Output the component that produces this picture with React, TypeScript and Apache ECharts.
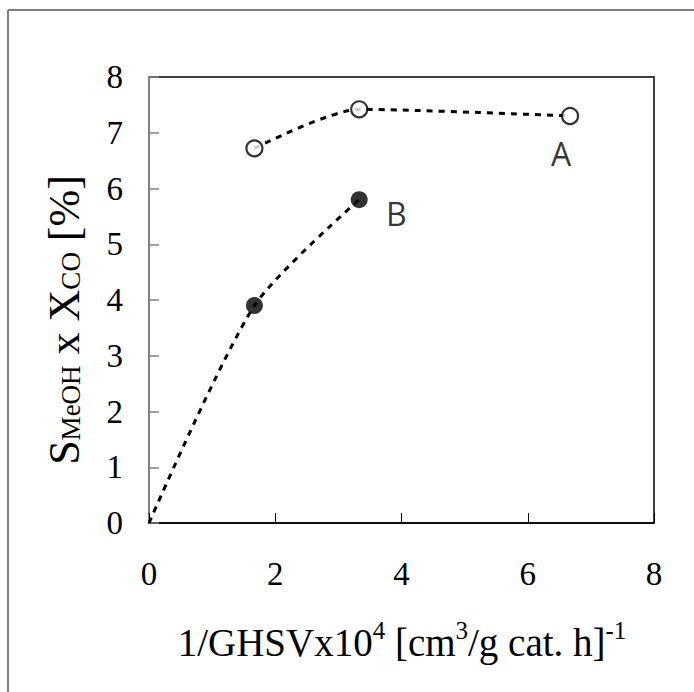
import React, { useEffect, useRef } from "react";
import * as echarts from "echarts";

// Data
const xA = [1.67, 3.33, 6.67];
const yA = [6.72, 7.42, 7.3];
const xB = [1.67, 3.33];
const yB = [3.9, 5.8];
// Trend curve for B starts at the origin
const xBTrend = [0, 1.67, 3.33];
const yBTrend = [0, 3.9, 5.8];
const xTicks = [0, 2, 4, 6, 8];
const yTicks = [0, 1, 2, 3, 4, 5, 6, 7, 8];

const SERIF = "'Liberation Serif', 'Times New Roman', serif";
const SANS = "'Open Sans', 'DejaVu Sans', sans-serif";

export default function App() {
  const ref = useRef<HTMLDivElement>(null);
  useEffect(() => {
    if (!ref.current) return;
    const chart = echarts.init(ref.current, null, { renderer: "svg" });
    const dash = { color: "#000", width: 3, type: [6, 6] as any };
    chart.setOption({
      animation: false,
      backgroundColor: "#fff",
      grid: {
        left: 149,
        top: 77,
        right: 40,
        bottom: 169,
        show: true,
        borderColor: "#000",
        borderWidth: 1.5,
        backgroundColor: "transparent",
      },
      xAxis: {
        type: "value",
        min: xTicks[0],
        max: xTicks[xTicks.length - 1],
        interval: 2,
        axisLine: { show: true, lineStyle: { color: "#000", width: 1.5 } },
        axisTick: { show: true, inside: true, length: 10, lineStyle: { color: "#000", width: 1 } },
        axisLabel: { fontSize: 33, fontFamily: SERIF, color: "#000", margin: 34 },
        splitLine: { show: false },
      },
      yAxis: {
        type: "value",
        min: yTicks[0],
        max: yTicks[yTicks.length - 1],
        interval: 1,
        axisLine: { show: true, lineStyle: { color: "#808080", width: 2 } },
        axisTick: { show: true, inside: true, length: 10, lineStyle: { color: "#808080", width: 1.5 } },
        axisLabel: { fontSize: 33, fontFamily: SERIF, color: "#000", margin: 26 },
        splitLine: { show: false },
      },
      series: [
        {
          type: "line",
          smooth: 0.25,
          symbol: "none",
          lineStyle: dash,
          data: xA.map((x, i) => [x, yA[i]]),
          z: 2,
        },
        {
          type: "line",
          smooth: 0.25,
          symbol: "none",
          lineStyle: dash,
          data: xBTrend.map((x, i) => [x, yBTrend[i]]),
          z: 2,
        },
        {
          type: "scatter",
          symbol: "circle",
          symbolSize: 16,
          itemStyle: { color: "#fff", borderColor: "#000", borderWidth: 2.2 },
          data: xA.map((x, i) => ({
            value: [x, yA[i]],
            label:
              i === xA.length - 1
                ? {
                    show: true,
                    formatter: "A",
                    position: "inside",
                    offset: [-9, 37],
                    fontFamily: SANS,
                    fontSize: 32,
                    color: "#000",
                  }
                : { show: false },
          })),
          z: 5,
        },
        {
          type: "scatter",
          symbol: "circle",
          symbolSize: 17,
          itemStyle: { color: "#000" },
          data: xB.map((x, i) => ({
            value: [x, yB[i]],
            label:
              i === xB.length - 1
                ? {
                    show: true,
                    formatter: "B",
                    position: "inside",
                    offset: [37, 14],
                    fontFamily: SANS,
                    fontSize: 32,
                    color: "#000",
                  }
                : { show: false },
          })),
          z: 5,
        },
      ],
      graphic: [
        {
          type: "line",
          shape: { x1: 8, y1: 10, x2: 694, y2: 10 },
          style: { stroke: "#808080", lineWidth: 2 },
        },
        {
          type: "line",
          shape: { x1: 8, y1: 10, x2: 8, y2: 692 },
          style: { stroke: "#808080", lineWidth: 2 },
        },
        {
          type: "text",
          x: 402,
          y: 640,
          style: {
            text: "{m|1/GHSVx10}{p|4}{m| [cm}{p|3}{m|/g cat. h]}{p|-1}",
            align: "center",
            verticalAlign: "middle",
            fill: "#000",
            rich: {
              m: { fontFamily: SERIF, fontSize: 39, color: "#000", lineHeight: 44, verticalAlign: "bottom" },
              p: { fontFamily: SERIF, fontSize: 25, color: "#000", lineHeight: 44, verticalAlign: "top" },
            },
          },
        },
        {
          type: "text",
          x: 62,
          y: 320,
          rotation: Math.PI / 2,
          style: {
            text: "{m|S}{s|MeOH}{m| x X}{s|CO}{m| [%]}",
            align: "center",
            verticalAlign: "middle",
            fill: "#000",
            rich: {
              m: { fontFamily: SERIF, fontSize: 44, color: "#000", lineHeight: 48, verticalAlign: "bottom" },
              s: { fontFamily: SERIF, fontSize: 27, color: "#000", lineHeight: 48, verticalAlign: "bottom", padding: [0, 0, 2, 0] },
            },
          },
        },
      ],
    });
    return () => chart.dispose();
  }, []);
  return (
    <div
      ref={ref}
      style={{ position: "fixed", left: 0, top: 0, width: 694, height: 692 }}
    />
  );
}
